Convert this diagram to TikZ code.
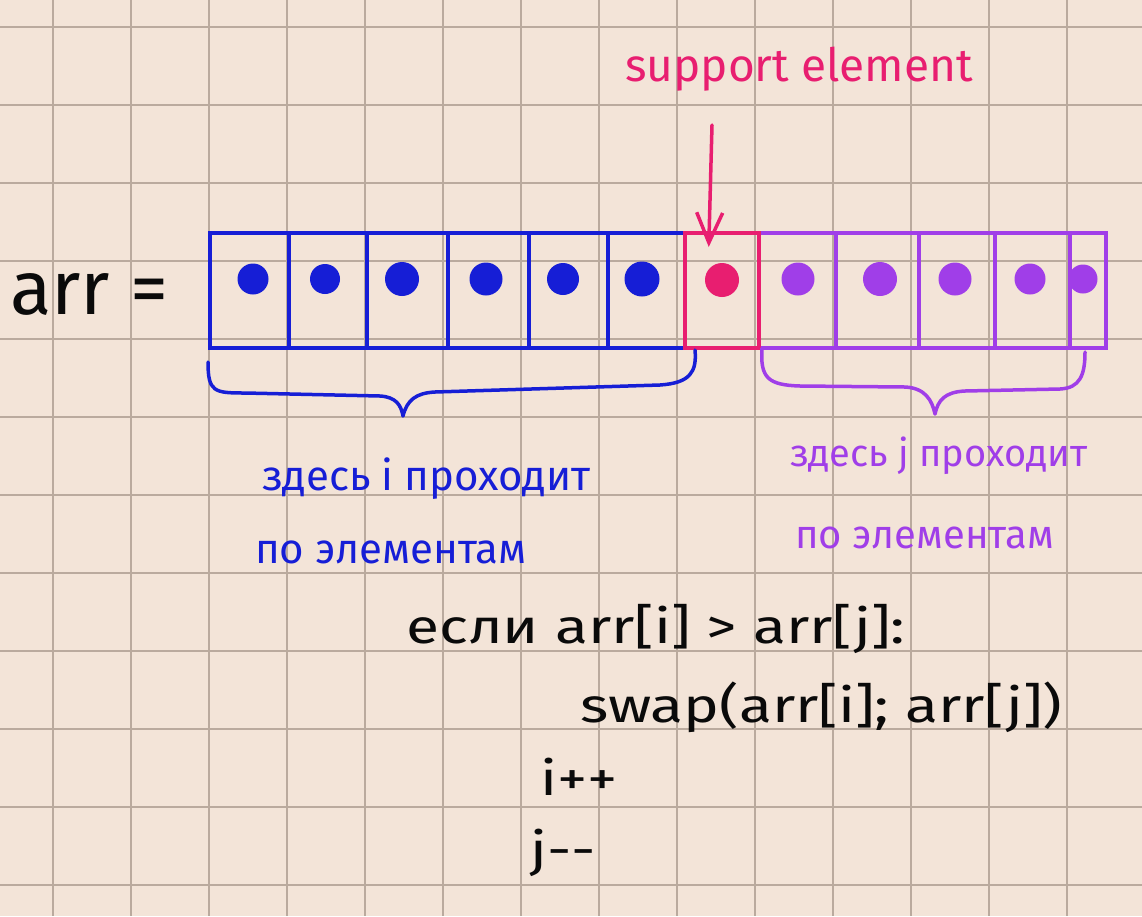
\documentclass[tikz,border=0pt]{standalone}
\usepackage{fontspec}
\setmainfont{Fira Sans}
\usetikzlibrary{arrows.meta}
\definecolor{paper}{RGB}{243,228,216}
\definecolor{gridc}{RGB}{186,170,158}
\definecolor{inkblue}{RGB}{22,30,214}
\definecolor{inkpink}{RGB}{232,30,112}
\definecolor{inkpurple}{RGB}{160,62,232}
\definecolor{inkblack}{RGB}{10,10,10}
\tikzset{
  cellbox/.style={draw, line width=3.5pt, minimum height=115pt, inner sep=0pt, anchor=north west},
  dot/.style={circle, fill, inner sep=0pt, minimum size=#1},
  hand/.style={inner sep=0pt, anchor=base west},
  code/.style={hand, inkblack, font=\fontsize{48}{52}\selectfont, xscale=1.26},
  bracepath/.style={line width=3.5pt, line cap=round, line join=round},
}
\begin{document}
\begin{tikzpicture}[x=1pt,y=-1pt]
\useasboundingbox (0,0) rectangle (1142,916);
\fill[paper] (0,0) rectangle (1142,916);
% grid
\foreach \gx in {53,131,...,1142} \draw[gridc, line width=2.2pt] (\gx,0) -- (\gx,916);
\foreach \gy in {27,105,...,916} \draw[gridc, line width=2.2pt] (0,\gy) -- (1142,\gy);

% array cells
\foreach \l/\w [count=\k] in {208/79,287/78,365/81,446/81,527/79,606/77}
  \node[cellbox, inkblue, minimum width=\w pt] (b\k) at (\l,231) {};
\node[cellbox, inkpurple, minimum width=77pt] (p1) at (757,231) {};
\node[cellbox, inkpurple, minimum width=83pt] (p2) at (834,231) {};
\node[cellbox, inkpurple, minimum width=76pt] (p3) at (917,231) {};
\node[cellbox, inkpurple, minimum width=75pt] (p4) at (993,231) {};
\node[cellbox, inkpurple, minimum width=36pt] (p5) at (1068,231) {};
\node[cellbox, inkpink, minimum width=74pt] (pivot) at (683,231) {};

% dots
\foreach \x/\s [count=\k] in {253/31,325/30,402/34,486/33,563/32,642/35}
  \node[dot=\s pt, inkblue] (db\k) at (\x,279) {};
\node[dot=34pt, inkpink] (dpivot) at (722,280) {};
\foreach \x/\s [count=\k] in {798/33,880/34,955/33,1030/31,1083/29}
  \node[dot=\s pt, inkpurple] (dp\k) at (\x,279) {};

% labels
\node[hand, inkblack, font=\fontsize{76}{80}\selectfont] (arr) at (10,314) {arr =};
\node[hand, inkpink, font=\fontsize{46}{50}\selectfont] (support) at (625,81) {support element};
\coordinate (arrowstart) at (712,125);
\draw[inkpink, line width=3.5pt, line cap=round, -{Straight Barb[length=30pt,width=26pt,line width=3.5pt]}]
  (arrowstart) -- ([xshift=-13pt,yshift=-16pt]pivot.north);

% braces
\draw[inkblue, bracepath] (208,362) .. controls (208,392) and (214,393) .. (245,393)
  -- (380,396) .. controls (396,397) and (401,405) .. (403,416)
  .. controls (407,400) and (416,393) .. (435,392) -- (660,385)
  .. controls (690,383) and (697,372) .. (695,350);
\draw[inkpurple, bracepath] (762,348) .. controls (760,378) and (768,385) .. (800,386)
  -- (905,387) .. controls (925,388) and (932,400) .. (935,414)
  .. controls (938,400) and (945,392) .. (965,391) -- (1060,389)
  .. controls (1080,388) and (1085,375) .. (1085,352);

\node[hand, inkblue, font=\fontsize{42}{46}\selectfont] (bl1) at (262,490) {здесь i проходит};
\node[hand, inkblue, font=\fontsize{42}{46}\selectfont] (bl2) at (255,563) {по элементам};
\node[hand, inkpurple, font=\fontsize{38}{42}\selectfont] (pl1) at (790,466) {здесь j проходит};
\node[hand, inkpurple, font=\fontsize{40}{44}\selectfont] (pl2) at (795,548) {по элементам};

\node[code] (cond) at (406,643) {если arr[i] > arr[j]:};
\node[code] (swap) at (580,722) {swap(arr[i]; arr[j])};
\node[code] (inc) at (540,795) {i++};
\node[code] (dec) at (530,866) {j{-}{-}};
\end{tikzpicture}
\end{document}
